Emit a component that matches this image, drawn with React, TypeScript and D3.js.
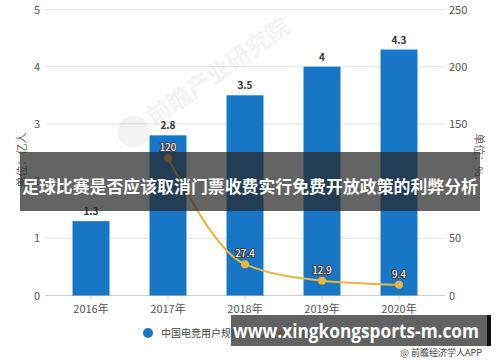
import React from "react";
import * as d3 from "d3";

const categories = ["2016年", "2017年", "2018年", "2019年", "2020年"];
const users = [1.3, 2.8, 3.5, 4, 4.3];
const growthYears = ["2017年", "2018年", "2019年", "2020年"];
const growth = [120, 27.4, 12.9, 9.4];
const leftTicks = [0, 1, 2, 3, 4, 5];
const rightTicks = [0, 50, 100, 150, 200, 250];

const W = 500;
const H = 362;

export default function App() {
  const x = d3.scaleBand<string>().domain(categories).range([52.5, 437.5]).paddingInner(0.52).paddingOuter(0.26);
  const yL = d3.scaleLinear().domain([0, 5]).range([295.5, 9.5]);
  const yR = d3.scaleLinear().domain([0, 250]).range([295.5, 9.5]);
  const cx = (c: string) => (x(c) as number) + x.bandwidth() / 2;
  const line = d3
    .line<number>()
    .x((_, i) => cx(growthYears[i]))
    .y((d) => yR(d))
    .curve(d3.curveMonotoneX);
  const font = "'Noto Sans CJK SC', 'Noto Sans', sans-serif";
  const gridColor = "#e4e4e4";
  const barColor = "#1776c6";
  const lineColor = "#e9b53c";

  return (
    <svg width={W} height={H} style={{ position: "absolute", left: 0, top: 0 }} fontFamily={font}>
      <rect x={0} y={0} width={W} height={H} fill="#ffffff" />
      {/* gridlines */}
      {leftTicks.map((t) => (
        <line key={t} x1={45} x2={445} y1={yL(t)} y2={yL(t)} stroke={t === 0 ? "#cfcfcf" : gridColor} strokeWidth={1} />
      ))}
      {leftTicks.map((t) => (
        <text key={"l" + t} x={40} y={yL(t) + 4} fontSize={11} fill="#555" textAnchor="end">{t}</text>
      ))}
      {rightTicks.filter((t) => t !== 100).map((t) => (
        <text key={"r" + t} x={449} y={yR(t) + 4} fontSize={11} fill="#555" textAnchor="start">{t}</text>
      ))}
      {/* watermark */}
      <g opacity={0.06} transform="translate(150,120) rotate(-35)">
        <circle cx={-20} cy={0} r={16} fill="#444" />
        <text x={0} y={8} fontSize={24} fontWeight="bold" fill="#444">前瞻产业研究院</text>
      </g>
      {/* x tick labels */}
      {categories.map((c) => (
        <g key={c}>
          <line x1={cx(c)} x2={cx(c)} y1={295.5} y2={300} stroke="#cfcfcf" />
          <text x={cx(c)} y={313} fontSize={11} fill="#555" textAnchor="middle">{c}</text>
        </g>
      ))}
      {/* bars */}
      {users.map((v, i) => (
        <g key={i}>
          <rect x={x(categories[i])} y={yL(v)} width={x.bandwidth()} height={yL(0) - yL(v)} fill={barColor} />
          <text x={cx(categories[i])} y={yL(v) - 6} fontSize={10} fontWeight="bold" fill="#333" textAnchor="middle">{v}</text>
        </g>
      ))}
      {/* line */}
      <path d={line(growth) || ""} fill="none" stroke={lineColor} strokeWidth={2} />
      {growth.map((v, i) => (
        <g key={i}>
          <circle cx={cx(growthYears[i])} cy={yR(v)} r={4} fill={lineColor} />
          <text x={cx(growthYears[i])} y={yR(v) - 7} fontSize={10} fill="#fff" stroke="#444" strokeWidth={2.2} paintOrder="stroke" textAnchor="middle">{v}</text>
        </g>
      ))}
      {/* axis titles */}
      <text transform="translate(26,160) rotate(-90)" fontSize={11} fill="#666" textAnchor="middle">单位：亿人</text>
      <text transform="translate(475,155) rotate(90)" fontSize={11} fill="#666" textAnchor="middle">单位：%</text>
      {/* legend */}
      <circle cx={148} cy={333} r={5} fill={barColor} />
      <text x={161} y={337} fontSize={10} fill="#444">中国电竞用户规模（亿人）</text>
      <line x1={272} x2={290} y1={333} y2={333} stroke={lineColor} strokeWidth={2} />
      <circle cx={281} cy={333} r={3} fill={lineColor} />
      <text x={295} y={337} fontSize={10} fill="#444">增速（%）</text>
      {/* title banner */}
      <rect x={20} y={152} width={460} height={59} fill="rgba(40,40,40,0.72)" />
      <text x={250} y={193} fontSize={17} fontWeight="bold" fill="#fff" textAnchor="middle" textLength={456} lengthAdjust="spacingAndGlyphs">足球比赛是否应该取消门票收费实行免费开放政策的利弊分析</text>
      {/* url banner */}
      <rect x={231} y={315} width={257} height={31} fill="rgba(70,70,70,0.85)" />
      <rect x={487} y={315} width={4} height={31} fill="#111" />
      <text x={356} y={338} fontSize={19} fontWeight="bold" fill="#fff" textAnchor="middle" textLength={246} lengthAdjust="spacingAndGlyphs" fontFamily="'Open Sans', 'DejaVu Sans', sans-serif">www.xingkongsports-m.com</text>
      <text x={482} y={356} fontSize={9} fill="#444" textAnchor="end">@ 前瞻经济学人APP</text>
    </svg>
  );
}
